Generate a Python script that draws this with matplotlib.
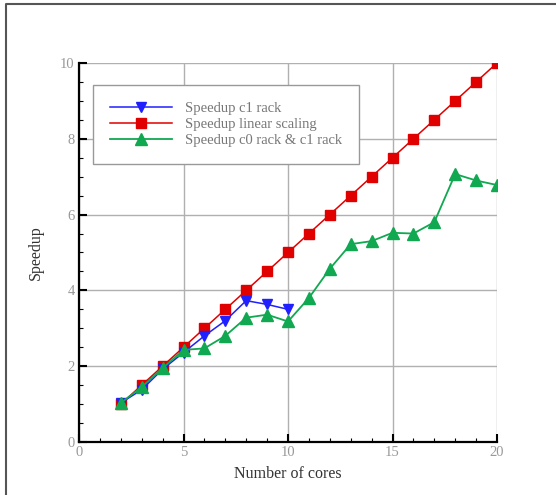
import matplotlib
matplotlib.use("Agg")
import matplotlib.pyplot as plt
from matplotlib.lines import Line2D
from matplotlib.ticker import MultipleLocator

cores_c1 = [2, 3, 4, 5, 6, 7, 8, 9, 10]
speedup_c1 = [1.03, 1.38, 1.92, 2.36, 2.8, 3.2, 3.73, 3.63, 3.5]

cores_lin = list(range(2, 21))
speedup_lin = [n / 2 for n in cores_lin]

cores_c0c1 = list(range(2, 21))
speedup_c0c1 = [1.03, 1.45, 1.95, 2.43, 2.47, 2.8, 3.28, 3.36, 3.18, 3.8,
                4.57, 5.22, 5.3, 5.52, 5.5, 5.8, 7.07, 6.9, 6.78]

plt.rcParams['font.family'] = ['Liberation Serif', 'DejaVu Serif']

fig = plt.figure(figsize=(5.56, 4.95), dpi=100)
ax = fig.add_axes([79/556, 1-442/495, 418/556, 379/495])

ax.plot(cores_c1, speedup_c1, color='#2020ff', lw=1.1, marker='v', ms=6.5,
        label='Speedup c1 rack', zorder=4)
ax.plot(cores_lin, speedup_lin, color='#e00000', lw=1.1, marker='s', ms=7.5,
        label='Speedup linear scaling', zorder=3)
ax.plot(cores_c0c1, speedup_c0c1, color='#10a850', lw=1.3, marker='^', ms=8,
        label='Speedup c0 rack & c1 rack', zorder=5)

ax.set_xlim(0, 20)
ax.set_ylim(0, 10)
ax.xaxis.set_major_locator(MultipleLocator(5))
ax.xaxis.set_minor_locator(MultipleLocator(1))
ax.yaxis.set_major_locator(MultipleLocator(2))
ax.yaxis.set_minor_locator(MultipleLocator(0.5))
ax.grid(True, which='major', color='#b0b0b0', lw=1)
ax.set_axisbelow(True)
for s in ['top', 'right']:
    ax.spines[s].set_visible(False)
for s in ['left', 'bottom']:
    ax.spines[s].set_linewidth(1.6)
    ax.spines[s].set_zorder(6)
ax.tick_params(which='both', direction='in', colors='black', labelcolor='#999999',
               labelsize=10.5, top=False, right=False)
ax.tick_params(which='major', length=6, width=1.5, pad=3)
ax.tick_params(which='minor', length=3, width=0.8)

ax.set_xlabel('Number of cores', fontsize=11.5, color='#333333', labelpad=5)
ax.set_ylabel('Speedup', fontsize=11.5, color='#333333', labelpad=12)

leg = ax.legend(loc='upper left', bbox_to_anchor=((93-79)/418, (442-85)/379),
                borderaxespad=0, fontsize=10.5, frameon=True, fancybox=False,
                edgecolor='#999999', handlelength=4.3, handletextpad=0.85,
                borderpad=1.15, labelspacing=0.2, framealpha=1)
for t in leg.get_texts():
    t.set_color('#777777')
leg.get_frame().set_linewidth(1.0)

x0 = 6/556
y0 = 1 - 4/495
fig.add_artist(Line2D([x0, x0, 1], [0, y0, y0], transform=fig.transFigure,
                      color='#555555', lw=1.5))

fig.savefig('out.png', dpi=100)
